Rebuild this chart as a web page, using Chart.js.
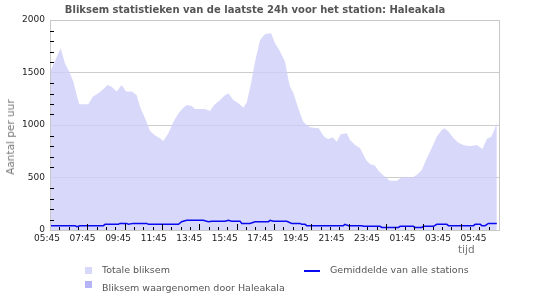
<!DOCTYPE html>
<html lang="nl">
<head>
  <meta charset="UTF-8" />
  <title>Bliksem statistieken Haleakala</title>
  <script src="https://cdn.jsdelivr.net/npm/chart.js@4"></script>
  <style>
    body { margin: 0; background: #fff; }
    #wrap {
      position: relative;
      width: 550px;
      height: 300px;
      font-family: "DejaVu Sans", sans-serif;
      color: #555;
    }
    #wrap canvas { position: absolute; left: 0; top: 0; }
    .txt { position: absolute; white-space: nowrap; }
    #title {
      left: 0; width: 510px; top: 3px;
      text-align: center; font-weight: bold; font-size: 10px; line-height: 13px;
    }
    #ytitle {
      left: 10px; top: 137px; font-size: 10.5px; color: #777;
      transform: translate(-50%, -50%) rotate(-90deg);
    }
    #xtitle { left: 458px; top: 243px; font-size: 10.5px; color: #777; }
    .leg { font-size: 9.5px; line-height: 12px; color: #555; }
    .sw { position: absolute; width: 7px; height: 7px; }
    .ln { position: absolute; width: 16px; height: 2px; }
  </style>
</head>
<body>
  <div id="wrap">
    <canvas id="chart" width="550" height="300"></canvas>
    <div id="title" class="txt">Bliksem statistieken van de laatste 24h voor het station: Haleakala</div>
    <div id="ytitle" class="txt">Aantal per uur</div>
    <div id="xtitle" class="txt">tijd</div>

    <div id="sw0" class="sw" style="left:85px; top:267px;"></div>
    <div class="txt leg" style="left:102px; top:264px;">Totale bliksem</div>
    <div id="sw1" class="sw" style="left:85px; top:281px;"></div>
    <div class="txt leg" style="left:102px; top:282px;">Bliksem waargenomen door Haleakala</div>
    <div id="ln2" class="ln" style="left:304px; top:270px;"></div>
    <div class="txt leg" style="left:330px; top:264px;">Gemiddelde van alle stations</div>
  </div>

  <script>
    // tijd-as: uren na 05:45
    const xTickLabels = ['05:45', '07:45', '09:45', '11:45', '13:45', '15:45', '17:45',
                         '19:45', '21:45', '23:45', '01:45', '03:45', '05:45'];

    // Totale bliksem
    const totalHours = [0, 0.57, 0.80, 1.07, 1.25, 1.43, 1.57, 2.05, 2.29, 2.59, 2.86, 3.09, 3.30,
      3.57, 3.84, 4.07, 4.38, 4.64, 4.82, 5.09, 5.36, 5.63, 5.89, 6.07, 6.34, 6.61, 6.88, 7.14,
      7.32, 7.59, 7.77, 8.04, 8.30, 8.57, 8.79, 9.11, 9.32, 9.55, 9.82, 10.09, 10.36, 10.54,
      10.75, 10.98, 11.25, 11.52, 11.84, 12.05, 12.32, 12.59, 12.77, 12.86, 13.04, 13.21, 13.39,
      13.57, 13.75, 13.93, 14.29, 14.38, 14.55, 14.73, 14.91, 15.14, 15.36, 15.57, 15.89, 16.07,
      16.34, 16.61, 16.79, 16.96, 17.14, 17.41, 17.59, 17.86, 18.21, 18.57, 18.84, 19.11, 19.38,
      19.64, 19.91, 20.18, 20.45, 20.71, 20.98, 21.13, 21.34, 21.61, 21.88, 22.14, 22.41, 22.64,
      22.86, 23.16, 23.39, 23.63, 23.79, 23.93];
    const totalValues = [1508, 1730, 1587, 1492, 1413, 1286, 1197, 1197, 1270, 1302, 1343, 1381, 1365,
      1318, 1381, 1318, 1318, 1286, 1175, 1064, 943, 899, 873, 848, 921, 1032, 1111, 1165,
      1191, 1181, 1153, 1153, 1153, 1133, 1191, 1238, 1276, 1302, 1238, 1207, 1165, 1216,
      1381, 1603, 1810, 1867, 1873, 1778, 1699, 1603, 1429, 1365, 1302, 1207, 1111,
      1032, 1000, 978, 968, 975, 921, 880, 867, 883, 841, 911, 921, 857,
      810, 778, 714, 660, 629, 613, 565, 518, 470, 470, 502, 508, 498,
      524, 572, 683, 784, 889, 953, 968, 937, 873, 832, 810, 800, 803,
      810, 772, 867, 889, 953, 1016];

    // Bliksem waargenomen door Haleakala (niets zichtbaar)
    const haleHours = [0, 23.93];
    const haleValues = [0, 0];

    // Gemiddelde van alle stations
    const avgHours = [0, 1.34, 1.43, 1.61, 2.86, 2.95, 3.66, 3.75, 4.11, 4.20, 4.46, 5.18, 5.27,
      6.88, 7.05, 7.32, 8.21, 8.48, 8.66, 9.38, 9.55, 9.73, 10.18, 10.27, 10.71, 10.98, 11.70,
      11.79, 11.96, 12.68, 12.95, 13.39, 13.48, 13.66, 13.75, 15.71, 15.80, 15.98, 16.70, 16.79,
      17.68, 17.77, 18.66, 18.75, 19.46, 19.55, 19.91, 20.00, 20.54, 20.71, 21.25, 21.34, 22.68,
      22.77, 23.04, 23.13, 23.30, 23.48, 23.93];
    const avgValues = [41, 41, 32, 41, 41, 54, 54, 63, 63, 54, 63, 63, 54,
      54, 79, 92, 92, 79, 83, 83, 92, 83, 83, 63, 63, 79, 79,
      92, 83, 83, 63, 63, 54, 54, 41, 41, 54, 41, 41, 35,
      35, 25, 25, 35, 35, 25, 25, 35, 35, 54, 54, 41, 41,
      54, 54, 41, 41, 63, 63];

    const colTotal = 'rgba(206, 206, 249, 0.8)';
    const colTotalLegend = 'rgb(216, 216, 250)';
    const colHale = 'rgb(180, 180, 246)';
    const colAvg = '#0a0af0';

    document.getElementById('sw0').style.background = colTotalLegend;
    document.getElementById('sw1').style.background = colHale;
    document.getElementById('ln2').style.background = colAvg;

    const pts = (hs, vs) => hs.map((h, i) => ({ x: h, y: vs[i] }));

    // rand + kleine streepjes binnen het plotvlak
    const frame = {
      id: 'frame',
      afterDatasetsDraw(chart) {
        const { ctx, chartArea: a, scales: { x, y } } = chart;
        ctx.save();
        ctx.lineWidth = 1;
        ctx.strokeStyle = '#c8c8c8';
        ctx.strokeRect(a.left + 0.5, a.top + 0.5, a.right - a.left - 1, a.bottom - a.top);
        ctx.strokeStyle = '#000';
        ctx.beginPath();
        for (let v = 100; v < 2000; v += 100) {
          if (v % 500 === 0) continue;
          const py = Math.round(y.getPixelForValue(v)) + 0.5;
          ctx.moveTo(a.left, py);
          ctx.lineTo(a.left + 4, py);
        }
        for (let h = 0.5; h < 24; h += 0.5) {
          const px = Math.round(x.getPixelForValue(h)) + 0.5;
          const len = h % 2 === 0 ? 6 : 3;
          ctx.moveTo(px, a.bottom);
          ctx.lineTo(px, a.bottom - len);
        }
        ctx.stroke();
        ctx.restore();
      }
    };

    Chart.defaults.font.family = '"DejaVu Sans", sans-serif';
    Chart.defaults.color = '#222';

    new Chart(document.getElementById('chart'), {
      type: 'line',
      data: {
        datasets: [
          {
            label: 'Gemiddelde van alle stations',
            data: pts(avgHours, avgValues),
            borderColor: colAvg,
            borderWidth: 1.5,
            pointRadius: 0,
            fill: false,
            order: 0
          },
          {
            label: 'Bliksem waargenomen door Haleakala',
            data: pts(haleHours, haleValues),
            borderWidth: 0,
            backgroundColor: colHale,
            pointRadius: 0,
            fill: 'origin',
            order: 1
          },
          {
            label: 'Totale bliksem',
            data: pts(totalHours, totalValues),
            borderWidth: 0,
            borderColor: colTotal,
            backgroundColor: colTotal,
            pointRadius: 0,
            fill: 'origin',
            order: 2
          }
        ]
      },
      options: {
        responsive: false,
        animation: false,
        layout: { padding: { left: 0, top: 20, right: 50, bottom: 0 } },
        plugins: {
          legend: { display: false },
          tooltip: { enabled: false }
        },
        scales: {
          x: {
            type: 'linear',
            min: 0,
            max: 24.1,
            display: false
          },
          x2: {
            type: 'linear',
            position: 'bottom',
            min: 0.084,
            max: 12.743,
            afterBuildTicks: s => { s.ticks = xTickLabels.map((l, i) => ({ value: i })); },
            afterFit: s => { s.height = 70; },
            grid: { display: false, drawTicks: false },
            border: { display: false },
            ticks: {
              autoSkip: false,
              maxRotation: 0,
              padding: 3,
              font: { size: 9 },
              color: '#222',
              callback: v => xTickLabels[v]
            }
          },
          y: {
            min: 0,
            max: 2000,
            afterFit: s => { s.width = 50; },
            grid: { color: '#cccccc', drawTicks: false },
            border: { display: false },
            ticks: {
              stepSize: 500,
              padding: 5,
              font: { size: 9 },
              color: '#222',
              callback: v => String(v)
            }
          }
        }
      },
      plugins: [frame]
    });
  </script>
</body>
</html>
